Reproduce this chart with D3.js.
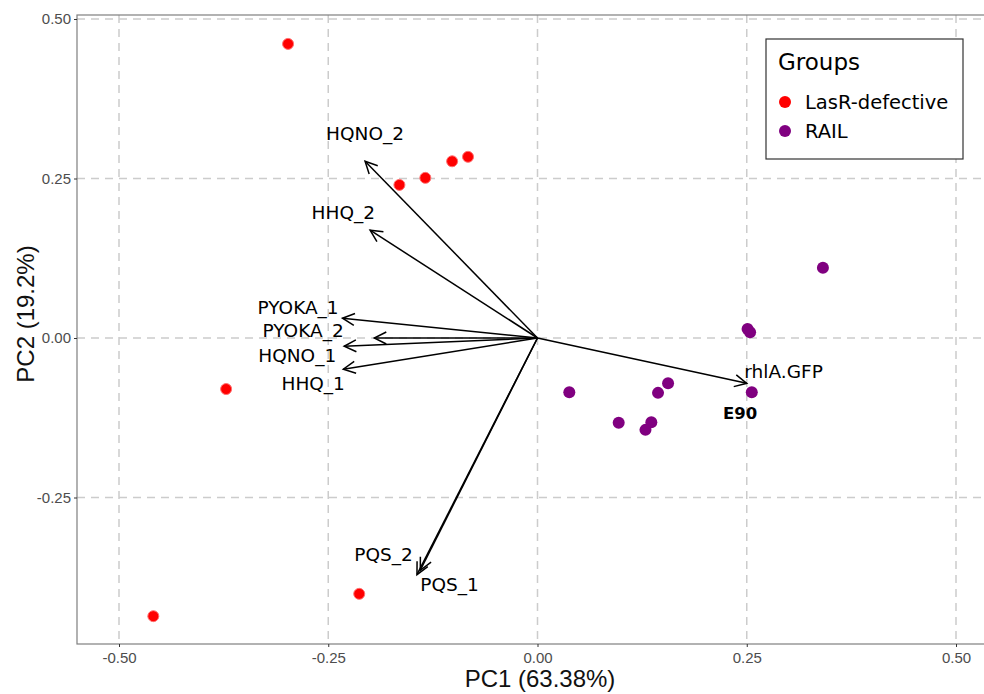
<!DOCTYPE html>
<html>
<head>
<meta charset="utf-8">
<script src="https://cdn.jsdelivr.net/npm/d3@7"></script>
<style>
  body { margin: 0; background: #fff; }
  svg { display: block; }
</style>
</head>
<body>
<div id="chart"></div>
<script>
// Scores (individuals)
var lasrX = [-0.298, -0.165, -0.134, -0.102, -0.083, -0.372, -0.459, -0.213];
var lasrY = [0.461, 0.240, 0.251, 0.277, 0.284, -0.080, -0.436, -0.401];
var railX = [0.341, 0.251, 0.254, 0.038, 0.097, 0.129, 0.136, 0.144, 0.156, 0.256];
var railY = [0.110, 0.014, 0.009, -0.085, -0.133, -0.144, -0.132, -0.086, -0.071, -0.085];

// Loadings (variables)
var varNames = ["HQNO_2", "HHQ_2", "PYOKA_1", "PYOKA_2", "HQNO_1", "HHQ_1", "rhlA.GFP", "PQS_2", "PQS_1"];
var varX = [-0.206, -0.200, -0.233, -0.195, -0.231, -0.232, 0.250, -0.144, -0.140];
var varY = [0.277, 0.169, 0.031, 0.000, -0.013, -0.049, -0.071, -0.371, -0.364];
var labelX = [-0.206, -0.232, -0.286, -0.280, -0.287, -0.268, 0.294, -0.184, -0.105];
var labelY = [0.320, 0.197, 0.047, 0.011, -0.027, -0.072, -0.053, -0.340, -0.387];

// Highlighted sample
var markName = "E90";
var markX = 0.242;
var markY = -0.118;

var groups = ["LasR-defective", "RAIL"];
var groupColors = ["#ff0000", "#800080"];
var xTicks = [-0.50, -0.25, 0.00, 0.25, 0.50];
var yTicks = [-0.25, 0.00, 0.25, 0.50];

var svgWidth = 984;
var svgHeight = 694;

// panel edges
var panel = { left: 77, top: 15, right: 1000, bottom: 644 };

var svg = d3.select("#chart")
  .append("svg")
  .attr("width", svgWidth)
  .attr("height", svgHeight);

var x = d3.scaleLinear().domain([-0.5, 0.5]).range([119, 956]);
var y = d3.scaleLinear().domain([-0.5, 0.5]).range([657, 19]);

// ggplot style labels use a plain hyphen
var fmt = d => d3.format(".2f")(d).replace("\u2212", "-");

// grid lines
var grid = svg.append("g");
grid.selectAll(".vgrid")
  .data(xTicks)
  .enter()
  .append("line")
  .attr("x1", d => x(d))
  .attr("x2", d => x(d))
  .attr("y1", panel.top)
  .attr("y2", panel.bottom)
  .attr("stroke", "#cccccc")
  .attr("stroke-width", 1.5)
  .attr("stroke-dasharray", "8,6");
grid.selectAll(".hgrid")
  .data(yTicks)
  .enter()
  .append("line")
  .attr("y1", d => y(d))
  .attr("y2", d => y(d))
  .attr("x1", panel.left)
  .attr("x2", panel.right)
  .attr("stroke", "#cccccc")
  .attr("stroke-width", 1.5)
  .attr("stroke-dasharray", "8,6");

// panel border
svg.append("rect")
  .attr("x", panel.left)
  .attr("y", panel.top)
  .attr("width", panel.right - panel.left)
  .attr("height", panel.bottom - panel.top)
  .attr("fill", "none")
  .attr("stroke", "#7f7f7f")
  .attr("stroke-width", 1.2);

// axes
var xAxis = svg.append("g")
  .attr("transform", `translate(0, ${panel.bottom})`)
  .call(d3.axisBottom(x).tickValues(xTicks).tickFormat(fmt).tickSize(3).tickSizeOuter(0));
xAxis.attr("font-size", null).attr("font-family", null);
xAxis.select(".domain").remove();
xAxis.selectAll(".tick line").attr("stroke", "#333333");
xAxis.selectAll("text")
  .attr("fill", "#4d4d4d")
  .style("font-family", "'Liberation Sans', Arial, sans-serif")
  .style("font-size", "15px")
  .attr("dy", "0.85em");

var yAxis = svg.append("g")
  .attr("transform", `translate(${panel.left}, 0)`)
  .call(d3.axisLeft(y).tickValues(yTicks).tickFormat(fmt).tickSize(3).tickSizeOuter(0));
yAxis.attr("font-size", null).attr("font-family", null);
yAxis.select(".domain").remove();
yAxis.selectAll(".tick line").attr("stroke", "#333333");
yAxis.selectAll("text")
  .attr("fill", "#4d4d4d")
  .style("font-family", "'Liberation Sans', Arial, sans-serif")
  .style("font-size", "15px");

// axis titles
svg.append("text")
  .attr("x", 540)
  .attr("y", 687)
  .attr("text-anchor", "middle")
  .attr("font-family", "'Liberation Sans', Arial, sans-serif")
  .attr("font-size", "24px")
  .attr("fill", "#111")
  .text("PC1 (63.38%)");

svg.append("text")
  .attr("transform", `translate(34, 314) rotate(-90)`)
  .attr("text-anchor", "middle")
  .attr("font-family", "'Liberation Sans', Arial, sans-serif")
  .attr("font-size", "24px")
  .attr("fill", "#111")
  .text("PC2 (19.2%)");

// arrowhead marker
svg.append("defs").append("marker")
  .attr("id", "arrow")
  .attr("markerUnits", "userSpaceOnUse")
  .attr("markerWidth", 20)
  .attr("markerHeight", 20)
  .attr("refX", 0)
  .attr("refY", 0)
  .attr("viewBox", "-14 -10 20 20")
  .attr("orient", "auto")
  .append("path")
  .attr("d", "M-12,-6 L0,0 L-12,6")
  .attr("fill", "none")
  .attr("stroke", "#000")
  .attr("stroke-width", 1.5);

// points
var lasr = lasrX.map((d, i) => ({ x: d, y: lasrY[i] }));
var rail = railX.map((d, i) => ({ x: d, y: railY[i] }));

svg.selectAll(".lasr")
  .data(lasr)
  .enter()
  .append("circle")
  .attr("cx", d => x(d.x))
  .attr("cy", d => y(d.y))
  .attr("r", 5.5)
  .attr("fill", groupColors[0])
  .attr("stroke", "#ff7070")
  .attr("stroke-width", 1);

svg.selectAll(".rail")
  .data(rail)
  .enter()
  .append("circle")
  .attr("cx", d => x(d.x))
  .attr("cy", d => y(d.y))
  .attr("r", 6)
  .attr("fill", groupColors[1]);

// loading arrows
var vars = varNames.map((n, i) => ({ name: n, x: varX[i], y: varY[i], lx: labelX[i], ly: labelY[i] }));

svg.selectAll(".arrow")
  .data(vars)
  .enter()
  .append("line")
  .attr("x1", x(0))
  .attr("y1", y(0))
  .attr("x2", d => x(d.x))
  .attr("y2", d => y(d.y))
  .attr("stroke", "#000")
  .attr("stroke-width", 1.5)
  .attr("marker-end", "url(#arrow)");

svg.selectAll(".varLabel")
  .data(vars)
  .enter()
  .append("text")
  .attr("x", d => x(d.lx))
  .attr("y", d => y(d.ly))
  .attr("dy", "0.35em")
  .attr("text-anchor", "middle")
  .attr("font-family", "'DejaVu Sans', Verdana, sans-serif")
  .attr("font-size", "18.5px")
  .attr("fill", "#000")
  .text(d => d.name);

svg.append("text")
  .attr("x", x(markX))
  .attr("y", y(markY))
  .attr("dy", "0.35em")
  .attr("text-anchor", "middle")
  .attr("font-family", "'DejaVu Sans', Verdana, sans-serif")
  .attr("font-weight", "bold")
  .attr("font-size", "16.5px")
  .attr("fill", "#000")
  .text(markName);

// legend
var legend = svg.append("g").attr("transform", "translate(766, 39)");
legend.append("rect")
  .attr("width", 197)
  .attr("height", 120)
  .attr("fill", "#fff")
  .attr("stroke", "#333")
  .attr("stroke-width", 1.2);
legend.append("text")
  .attr("x", 12)
  .attr("y", 31)
  .attr("font-family", "'DejaVu Sans', Verdana, sans-serif")
  .attr("font-size", "23px")
  .attr("fill", "#000")
  .text("Groups");
var items = legend.selectAll(".item")
  .data(groups)
  .enter()
  .append("g")
  .attr("transform", (d, i) => `translate(0, ${63 + i * 29})`);
items.append("circle")
  .attr("cx", 19)
  .attr("cy", 0)
  .attr("r", 6)
  .attr("fill", (d, i) => groupColors[i]);
items.append("text")
  .attr("x", 39)
  .attr("y", 0)
  .attr("dy", "0.35em")
  .attr("font-family", "'DejaVu Sans', Verdana, sans-serif")
  .attr("font-size", "19.5px")
  .attr("fill", "#000")
  .text(d => d);
</script>
</body>
</html>
